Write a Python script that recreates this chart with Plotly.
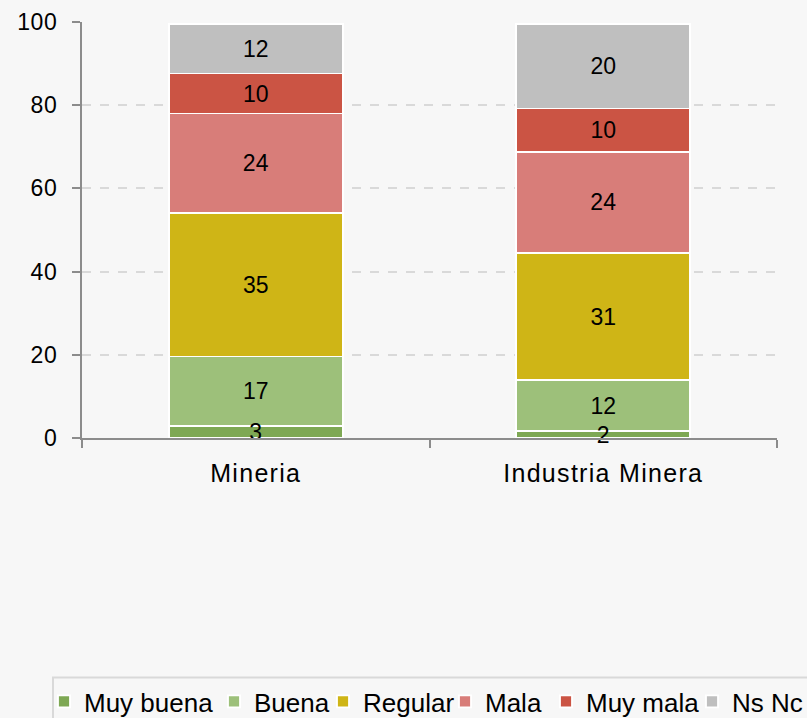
import plotly.graph_objects as go

categories = ["Mineria", "Industria Minera"]
series_names = ["Muy buena", "Buena", "Regular", "Mala", "Muy mala", "Ns Nc"]
muy_buena = [2.8, 1.6]
buena = [16.8, 12.3]
regular = [34.5, 30.6]
mala = [23.9, 24.3]
muy_mala = [9.6, 10.4]
ns_nc = [11.9, 20.3]
series_values = [muy_buena, buena, regular, mala, muy_mala, ns_nc]
colors = ["#7ea854", "#9dc07a", "#cfb516", "#d87d79", "#cb5444", "#bfbfbf"]
y_ticks = [0, 20, 40, 60, 80, 100]

FONT = "Liberation Sans, Arial, sans-serif"
W, H = 807, 718
L, R, T, B = 82, 30, 22, 280
PW, PH = W - L - R, H - T - B

def px_x(p):
    return (p - L) / PW

def px_y(p):
    return (H - B - p) / PH

# legend entry text start positions (pixels) in the legend strip
legend_text_px = [86, 256, 365, 487, 588, 734]
legend_top_px = 678

bar_text = dict(family=FONT, size=23, color="black")

fig = go.Figure()
layout_legends = {}
for i, (name, vals, col) in enumerate(zip(series_names, series_values, colors)):
    lg = "legend" if i == 0 else f"legend{i + 1}"
    fig.add_trace(go.Bar(
        x=categories, y=vals, name=name, legend=lg,
        marker=dict(color=col, line=dict(color="white", width=1.8)),
        texttemplate=None if i == 0 else "%{y:.0f}",
        textposition="inside", insidetextanchor="middle",
        textangle=0, constraintext="none", cliponaxis=False,
        textfont=bar_text, hoverinfo="skip",
    ))
    layout_legends[lg] = dict(
        orientation="h", x=px_x(legend_text_px[i] - 42), xanchor="left",
        y=px_y(legend_top_px), yanchor="top",
        bgcolor="rgba(0,0,0,0)", borderwidth=0,
        font=dict(family=FONT, size=26, color="black"),
    )

# labels of the thin bottom segment drawn on an overlaying axis so they sit above the other bars
fig.add_trace(go.Bar(
    x=categories, y=muy_buena, xaxis="x2", yaxis="y2", showlegend=False,
    marker=dict(color="rgba(0,0,0,0)", line=dict(width=0)),
    texttemplate="%{y:.0f}", textposition="inside", insidetextanchor="middle",
    textangle=0, constraintext="none", cliponaxis=False,
    textfont=bar_text, hoverinfo="skip",
))

fig.update_layout(
    width=W, height=H, barmode="stack", bargap=0.5,
    margin=dict(l=L, r=R, t=T, b=B, pad=0, autoexpand=False),
    paper_bgcolor="#f7f7f7", plot_bgcolor="#f7f7f7",
    font=dict(family=FONT, size=22, color="black"),
    showlegend=True,
    xaxis=dict(
        showline=True, linecolor="#8c8c8c", linewidth=2,
        ticks="outside", tickson="boundaries", ticklen=8, tickcolor="#8c8c8c", tickwidth=2,
        showgrid=False, tickfont=dict(family=FONT, size=25, color="black"),
        ticklabelstandoff=12,
    ),
    yaxis=dict(
        range=[0, 100], tickvals=y_ticks, showline=True, linecolor="#8c8c8c", linewidth=2,
        ticks="outside", ticklen=8, tickcolor="#8c8c8c", tickwidth=2,
        showgrid=True, gridcolor="#d9d9d9", griddash="dash", gridwidth=1.5,
        zeroline=False, tickfont=dict(family=FONT, size=23, color="black"),
        ticklabelstandoff=10,
    ),
    xaxis2=dict(overlaying="x", matches="x", visible=False, showgrid=False),
    yaxis2=dict(overlaying="y", range=[0, 100], visible=False, showgrid=False, zeroline=False),
    shapes=[dict(
        type="rect", xref="paper", yref="paper", layer="below",
        x0=px_x(53), x1=px_x(W + 20), y0=px_y(677.5), y1=px_y(H + 20),
        line=dict(color="#d9d9d9", width=2), fillcolor="#f7f7f7",
    )],
    **layout_legends,
)

post = """
document.body.style.margin = '0';
var st = document.createElement('style');
st.textContent = '.xtick text{letter-spacing:1.3px;} .ytick text{letter-spacing:0.6px;}';
document.head.appendChild(st);
"""
fig.write_html("out.html", post_script=post, config={"displayModeBar": False})
